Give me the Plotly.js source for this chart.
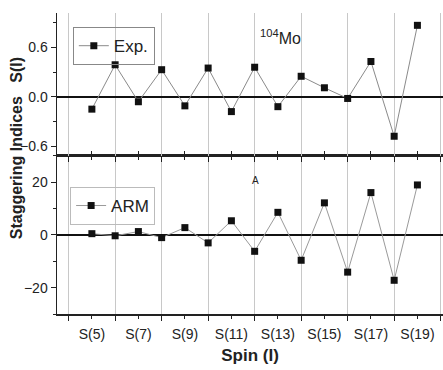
<!DOCTYPE html>
<html>
<head>
<meta charset="utf-8">
<script src="https://cdn.plot.ly/plotly-3.0.1.min.js"></script>
<style>html,body{margin:0;padding:0;background:#fff;}#chart{width:443px;height:370px;}</style>
</head>
<body>
<div id="chart"></div>
<script>
// Spin index I for S(I)
const spins = [5, 6, 7, 8, 9, 10, 11, 12, 13, 14, 15, 16, 17, 18, 19];
// Experimental staggering S(I) (top panel)
const expValues = [-0.15, 0.39, -0.06, 0.33, -0.11, 0.35, -0.18, 0.36, -0.12, 0.25, 0.11, -0.02, 0.43, -0.48, 0.87];
// ARM staggering (bottom panel)
const armValues = [0.5, -0.3, 1.3, -1.0, 2.8, -3.0, 5.4, -6.2, 8.6, -9.6, 12.2, -14.1, 16.1, -17.2, 19.0];
// x tick labels
const tickVals = [5, 7, 9, 11, 13, 15, 17, 19];
const tickLabels = ['S(5)', 'S(7)', 'S(9)', 'S(11)', 'S(13)', 'S(15)', 'S(17)', 'S(19)'];

const FONT = 'Liberation Sans, Arial, sans-serif';

const traces = [
  {
    x: spins, y: expValues, name: 'Exp.', type: 'scatter', mode: 'lines+markers',
    xaxis: 'x2', yaxis: 'y2', legend: 'legend',
    line: {color: '#8a8a8a', width: 1},
    marker: {symbol: 'square', size: 7, color: '#111'}
  },
  {
    x: spins, y: armValues, name: 'ARM', type: 'scatter', mode: 'lines+markers',
    xaxis: 'x', yaxis: 'y', legend: 'legend2',
    line: {color: '#9a9a9a', width: 1},
    marker: {symbol: 'square', size: 7, color: '#111'}
  }
];

const xCommon = {
  range: [3.5, 20.1],
  tickmode: 'array', tickvals: tickVals, ticktext: tickLabels,
  showgrid: false, zeroline: false,
  showline: true, linecolor: '#222', linewidth: 1.5,
  ticks: 'outside', ticklen: 3, tickcolor: '#222',
  tickfont: {family: FONT, size: 14, color: '#222'},
  minor: {tick0: 4, dtick: 2, ticks: 'outside', ticklen: 5, tickcolor: '#222',
          showgrid: true, gridcolor: '#c8c8c8', gridwidth: 1}
};

const layout = {
  width: 443, height: 370,
  margin: {l: 57, r: 0, t: 13, b: 56},
  paper_bgcolor: '#fff', plot_bgcolor: '#fff',
  font: {family: FONT, color: '#222'},
  xaxis: Object.assign({}, xCommon, {
    anchor: 'y', mirror: 'ticks', ticklabelstandoff: 4,
    title: {text: '<b>Spin (I)</b>', font: {family: FONT, size: 17, color: '#222'}, standoff: 8}
  }),
  xaxis2: Object.assign({}, xCommon, {
    anchor: 'y2', matches: 'x', showticklabels: false
  }),
  yaxis: {
    domain: [0, 0.525], range: [-30, 30], anchor: 'x',
    tick0: 0, dtick: 20, showgrid: false,
    zeroline: true, zerolinecolor: '#111', zerolinewidth: 1.5,
    showline: true, linecolor: '#222', linewidth: 1.5,
    ticks: 'outside', ticklen: 5, tickcolor: '#222',
    tickfont: {family: FONT, size: 14, color: '#222'},
    minor: {dtick: 10, ticks: 'outside', ticklen: 3, tickcolor: '#222'}
  },
  yaxis2: {
    domain: [0.525, 1], range: [-0.72, 1.02], anchor: 'x2',
    tick0: 0, dtick: 0.6, tickformat: '.1f', showgrid: false,
    zeroline: true, zerolinecolor: '#111', zerolinewidth: 1.5,
    showline: true, linecolor: '#222', linewidth: 1.5,
    ticks: 'outside', ticklen: 5, tickcolor: '#222',
    tickfont: {family: FONT, size: 14, color: '#222'},
    minor: {dtick: 0.3, ticks: 'outside', ticklen: 3, tickcolor: '#222'}
  },
  showlegend: true,
  legend: {
    x: 0.041, y: 0.953, xanchor: 'left', yanchor: 'top',
    bgcolor: 'rgba(255,255,255,0)', bordercolor: '#888', borderwidth: 1,
    font: {family: FONT, size: 17, color: '#222'}, itemwidth: 30, tracegroupgap: 0
  },
  legend2: {
    x: 0.034, y: 0.422, xanchor: 'left', yanchor: 'top',
    bgcolor: 'rgba(255,255,255,0)', bordercolor: '#bbb', borderwidth: 1,
    font: {family: FONT, size: 17, color: '#222'}, itemwidth: 30, tracegroupgap: 0
  },
  annotations: [
    {text: '<b>Staggering Indices   S(I)</b>', textangle: -90,
     xref: 'paper', yref: 'paper', x: -0.106, y: 0.551, xanchor: 'center', yanchor: 'middle',
     showarrow: false, font: {family: FONT, size: 16, color: '#222'}},
    {text: '<sup>104</sup>Mo', xref: 'paper', yref: 'paper', x: 0.578, y: 0.92,
     xanchor: 'center', yanchor: 'middle', showarrow: false,
     font: {family: FONT, size: 16, color: '#222'}},
    {text: 'A', xref: 'paper', yref: 'paper', x: 0.513, y: 0.445,
     xanchor: 'center', yanchor: 'middle', showarrow: false,
     font: {family: FONT, size: 10, color: '#222'}}
  ]
};

Plotly.newPlot('chart', traces, layout, {displayModeBar: false, staticPlot: true});
</script>
</body>
</html>
